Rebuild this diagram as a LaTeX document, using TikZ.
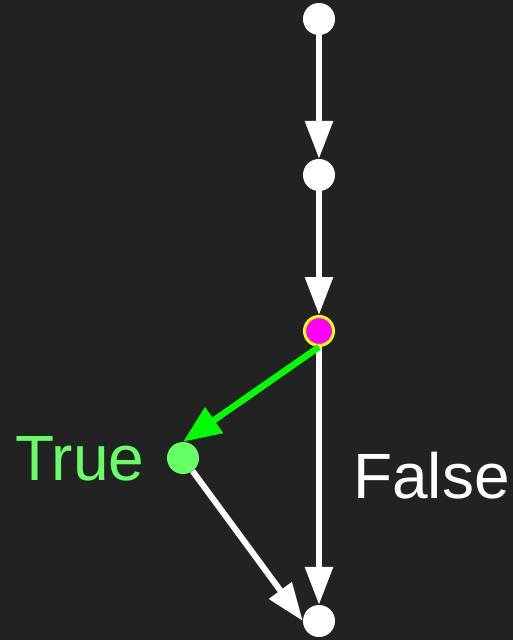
\documentclass[tikz,border=0pt]{standalone}
\usepackage{fontspec}
\setmainfont{Liberation Sans}
\usepackage{tikz}
\usetikzlibrary{arrows.meta,positioning}
\definecolor{bg}{RGB}{34,34,34}
\definecolor{truecol}{RGB}{102,255,102}
\definecolor{takecol}{RGB}{0,255,0}
\definecolor{cond}{RGB}{255,0,255}
\definecolor{ring}{RGB}{255,255,0}
\tikzset{
  dot/.style={circle, fill=white, inner sep=0pt, minimum size=32pt},
  cdot/.style={circle, fill=cond, draw=ring, line width=3pt, inner sep=0pt, minimum size=29pt},
  tdot/.style={circle, fill=truecol, inner sep=0pt, minimum size=32pt},
  flow/.style={-{Triangle[length=38pt,width=27pt]}, line width=6pt, white},
  taken/.style={-{Triangle[length=38pt,width=30pt]}, line width=6.5pt, takecol},
  lbl/.style={inner sep=0pt, anchor=base west, font=\fontsize{64}{70}\selectfont},
}
\begin{document}
\begin{tikzpicture}[x=1pt,y=-1pt]
  \fill[bg] (0,0) rectangle (513,640);
  \useasboundingbox (0,0) rectangle (513,640);
  \node[dot] (start) at (319,19) {};
  \node[dot] (mid) at (319,175) {};
  \node[cdot] (branch) at (319,331) {};
  \node[tdot] (yes) at (183,458) {};
  \node[dot] (join) at (319,621) {};
  \draw[flow] (start) -- (mid);
  \draw[flow] (mid) -- (branch);
  \draw[flow] (branch) -- (join);
  \draw[flow] (yes) -- (join.west);
  \draw[taken] (branch.south) -- (yes.north);
  \node[lbl, text=truecol] (truetxt) at (15,480) {True};
  \node[lbl, text=white] (falsetxt) at (353,498) {False};
\end{tikzpicture}
\end{document}
